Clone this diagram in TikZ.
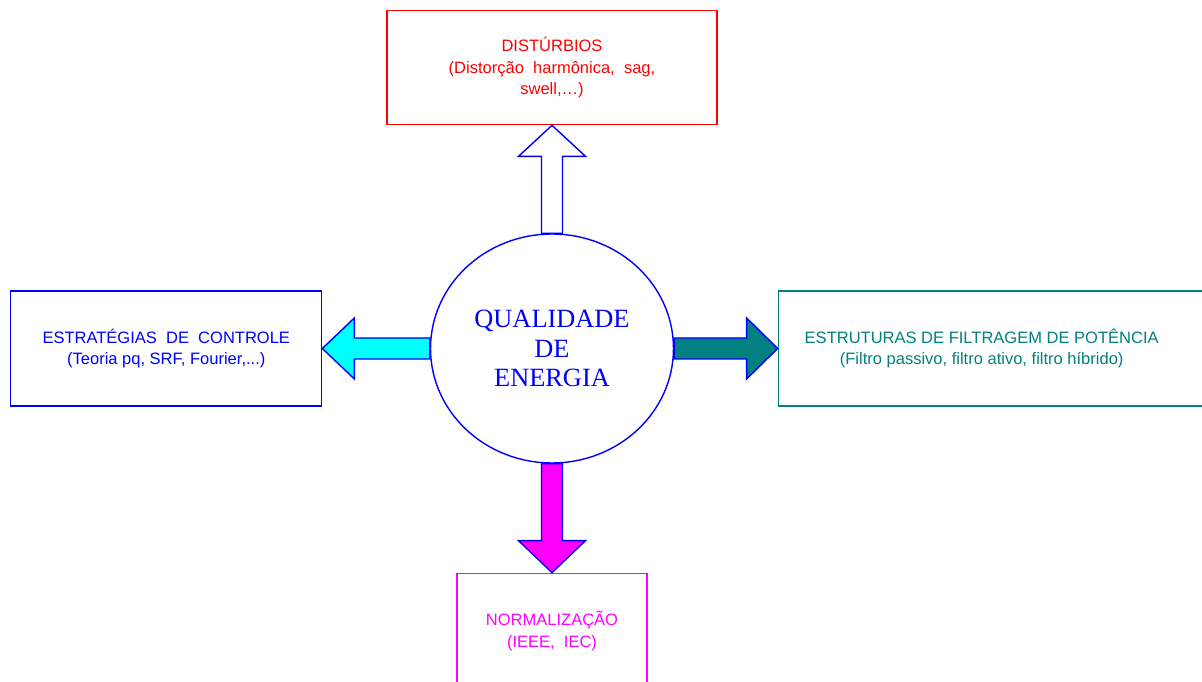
\documentclass[tikz,border=0pt]{standalone}
\usepackage{fontspec}
\setmainfont{Liberation Serif}
\setsansfont{Liberation Sans}
\usepackage{tikz}
\usetikzlibrary{positioning,shapes,calc}
\definecolor{Teal}{rgb}{0,0.5,0.5}
\definecolor{Magenta}{rgb}{1,0,1}
\definecolor{Cyan}{rgb}{0,1,1}
\tikzstyle{box}=[%
      rectangle, draw, line width=0.7pt, fill=none,
      minimum height=2.3cm, inner sep=0pt, align=center,
      font=\sffamily\fontsize{9.4}{12.2}\selectfont
]
\tikzstyle{fat}=[%
      draw=blue, line width=0.8pt, line join=miter
]

\begin{document}
\begin{tikzpicture}[x=0.02cm, y=0.02cm]
    \useasboundingbox (-552,-333.5) rectangle (650,348.5);

    \node[ellipse, draw=blue, line width=0.8pt, minimum width=4.86cm, minimum height=4.58cm,
          inner sep=0pt, align=center, text=blue, font=\fontsize{15}{16.8}\selectfont]
          (qe) at (0,0) {QUALIDADE\\DE\\ENERGIA};
    \node[box, draw=red, text=red, minimum width=6.6cm, minimum height=2.28cm]
          (dist) [above=2.16cm of qe] {DISTÚRBIOS\\(Distorção\ \ harmônica,\ \ sag,\\swell,…)};
    \node[box, draw=blue, text=blue, minimum width=6.22cm]
          (ctrl) [left=2.15cm of qe] {ESTRATÉGIAS\ \ DE\ \ CONTROLE\\(Teoria pq, SRF, Fourier,...)};
    \node[box, draw=Teal, minimum width=8.76cm]
          (filt) [right=2.07cm of qe] {};
    \node[box, draw=none, text=Teal, minimum height=0pt]
          (filttxt) at ($(filt.west)+(204,0)$) {ESTRUTURAS DE FILTRAGEM DE POTÊNCIA\\(Filtro passivo, filtro ativo, filtro híbrido)};
    \node[box, draw=Magenta, text=Magenta, minimum width=3.8cm]
          (norm) [below=2.18cm of qe] {NORMALIZAÇÃO\\(IEEE,\ \ IEC)};

    % block arrows
    \draw[fat, fill=white] ($(qe.north)+(-10.5,0)$) -- ($(dist.south)+(-10.5,-31)$)
        -- ($(dist.south)+(-33.5,-31)$) -- (dist.south) -- ($(dist.south)+(33.5,-31)$)
        -- ($(dist.south)+(10.5,-31)$) -- ($(qe.north)+(10.5,0)$) -- cycle;
    \draw[fat, fill=Magenta] ($(qe.south)+(-10.5,0)$) -- ($(norm.north)+(-10.5,32)$)
        -- ($(norm.north)+(-33.5,32)$) -- (norm.north) -- ($(norm.north)+(33.5,32)$)
        -- ($(norm.north)+(10.5,32)$) -- ($(qe.south)+(10.5,0)$) -- cycle;
    \draw[fat, fill=Cyan] ($(qe.west)+(0,10.5)$) -- ($(ctrl.east)+(32,10.5)$)
        -- ($(ctrl.east)+(32,30.5)$) -- (ctrl.east) -- ($(ctrl.east)+(32,-30.5)$)
        -- ($(ctrl.east)+(32,-10.5)$) -- ($(qe.west)+(0,-10.5)$) -- cycle;
    \draw[fat, fill=Teal] ($(qe.east)+(0,10.5)$) -- ($(filt.west)+(-31,10.5)$)
        -- ($(filt.west)+(-31,30.5)$) -- (filt.west) -- ($(filt.west)+(-31,-30.5)$)
        -- ($(filt.west)+(-31,-10.5)$) -- ($(qe.east)+(0,-10.5)$) -- cycle;
\end{tikzpicture}
\end{document}
